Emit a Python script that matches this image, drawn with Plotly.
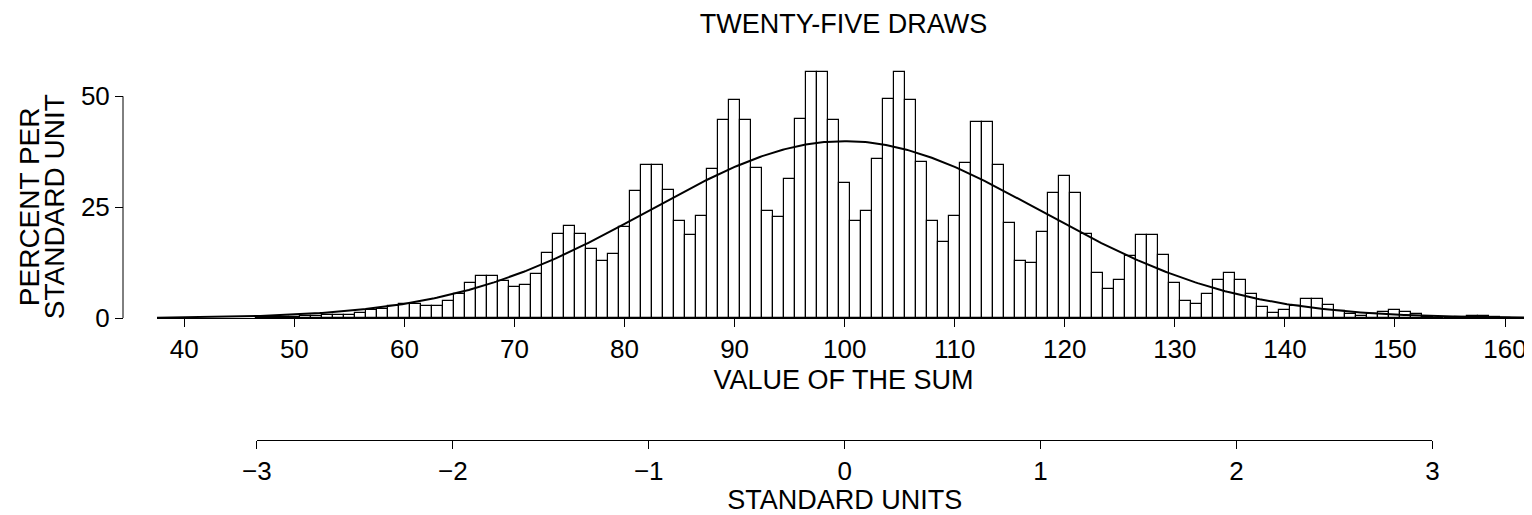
import numpy as np
import plotly.graph_objects as go

# ---------------- data ----------------
sums = list(range(47, 161))
pct_per_su = [
    0.15, 0.2, 0.2,                                   # 47-49
    0.25, 0.4, 0.5, 0.6, 0.6, 0.6, 1.1, 1.7, 2.1, 2.7,  # 50-59
    3.2, 3.2, 2.8, 2.8, 3.8, 5.5, 7.9, 9.4, 9.4, 8.3,   # 60-69
    7.0, 7.4, 10.0, 14.7, 18.9, 20.7, 19.0, 15.5, 12.9, 14.4,  # 70-79
    20.5, 28.6, 34.5, 34.5, 28.9, 21.8, 18.7, 23.1, 33.6, 44.6,  # 80-89
    49.2, 44.6, 33.8, 24.1, 22.8, 31.3, 45.0, 55.5, 55.5, 44.7,  # 90-99
    30.5, 21.8, 24.1, 35.9, 49.4, 55.5, 49.2, 35.1, 21.9, 17.1,  # 100-109
    23.0, 34.9, 44.3, 44.3, 34.5, 21.5, 12.8, 12.5, 19.5, 28.2,  # 110-119
    32.1, 28.2, 18.9, 10.2, 6.5, 8.6, 14.0, 18.7, 18.7, 14.1,    # 120-129
    7.9, 3.8, 3.2, 5.5, 8.6, 10.2, 8.6, 5.4, 2.5, 1.1,           # 130-139
    1.7, 2.8, 4.3, 4.3, 3.0, 1.5, 0.9, 0.5, 0.9, 1.4,            # 140-149
    1.7, 1.4, 0.8, 0.3, 0.1, 0.1, 0.3, 0.5, 0.5, 0.3,            # 150-159
    0.1,                                                         # 160
]
MEAN = 100.0
SD = 17.8
x_ticks = [40, 50, 60, 70, 80, 90, 100, 110, 120, 130, 140, 150, 160]
y_ticks = [0, 25, 50]
su_ticks = [-3, -2, -1, 0, 1, 2, 3]
su_labels = ["\u22123", "\u22122", "\u22121", "0", "1", "2", "3"]

title_text = "TWENTY-FIVE DRAWS"
xlabel = "VALUE OF THE SUM"
ylabel_lines = ["PERCENT PER", "STANDARD UNIT"]
su_label = "STANDARD UNITS"

# ---------------- geometry (page has an 8px body margin) ----------------
OFF = 8
W, H = 1532 - OFF, 515 - OFF


def fx(px):  # reference page x -> figure x
    return px - OFF


def fy(py):  # reference page y -> figure y
    return py - OFF


ML, MR, MT, MB = fx(123), 2, fy(52), 12
PW = W - ML - MR
PH = H - MT - MB
X_RANGE = [37.52, 162.27]
X_LEFT = fx(157)
x_dom0 = (X_LEFT - ML) / PW
px_per_unit = (W - MR - X_LEFT) / (X_RANGE[1] - X_RANGE[0])


def px_of(v):
    return X_LEFT + (v - X_RANGE[0]) * px_per_unit


main_bottom = fy(318)
y_dom0 = (H - MB - main_bottom) / PH
su_axis = fy(440)
y2_dom0 = (H - MB - su_axis) / PH
su_dom = [(px_of(MEAN - 3 * SD) - ML) / PW, (px_of(MEAN + 3 * SD) - ML) / PW]

FONT = "Liberation Sans, Arial, Helvetica, sans-serif"
FS_TICK = 26
FS_LAB = 27

# normal curve
xc = np.linspace(X_RANGE[0], X_RANGE[1], 600)
yc = 100.0 * np.exp(-0.5 * ((xc - MEAN) / SD) ** 2) / np.sqrt(2 * np.pi)

fig = go.Figure()
fig.add_trace(go.Bar(
    x=sums, y=pct_per_su, width=1.0,
    marker=dict(color="white", line=dict(color="black", width=1.2)),
    showlegend=False, hoverinfo="x+y",
))
fig.add_trace(go.Scatter(
    x=xc, y=yc, mode="lines", line=dict(color="black", width=2),
    showlegend=False, hoverinfo="skip",
))
# invisible trace to carry the standard-units axis
fig.add_trace(go.Scatter(
    x=[su_ticks[0], su_ticks[-1]], y=[0, 0], xaxis="x2", yaxis="y2",
    mode="markers", marker=dict(opacity=0), showlegend=False, hoverinfo="skip",
))

fig.update_layout(
    width=W, height=H,
    margin=dict(l=ML, r=MR, t=MT, b=MB, autoexpand=False),
    paper_bgcolor="white", plot_bgcolor="white",
    font=dict(family=FONT, size=FS_TICK, color="black"),
    bargap=0,
    title=dict(text=title_text, x=fx(843.5) / W, xanchor="center", xref="container",
               y=1 - fy(24) / H, yanchor="middle", yref="container",
               font=dict(size=FS_LAB, family=FONT, color="black")),
    xaxis=dict(
        domain=[x_dom0, 1], range=X_RANGE, anchor="y",
        tickmode="array", tickvals=x_ticks, ticks="outside", ticklen=8,
        tickwidth=1, tickcolor="black", showline=True, linecolor="black",
        linewidth=1, showgrid=False, zeroline=False,
        tickfont=dict(size=FS_TICK, family=FONT, color="black"),
        title=dict(text=xlabel, standoff=6, font=dict(size=FS_LAB, family=FONT, color="black")),
    ),
    yaxis=dict(
        domain=[y_dom0, 1], range=[0, 60], anchor="free", position=0,
        tickmode="array", tickvals=y_ticks, ticks="outside", ticklen=8,
        tickwidth=1, tickcolor="black", showline=False, showgrid=False,
        zeroline=False, tickfont=dict(size=FS_TICK, family=FONT, color="black"),
    ),
    xaxis2=dict(
        domain=su_dom, range=[su_ticks[0], su_ticks[-1]], anchor="y2",
        tickmode="array", tickvals=su_ticks, ticktext=su_labels,
        ticks="outside", ticklen=8, tickwidth=1, tickcolor="black",
        showline=True, linecolor="black", linewidth=1, showgrid=False,
        zeroline=False, tickfont=dict(size=FS_TICK, family=FONT, color="black"),
        title=dict(text=su_label, standoff=4, font=dict(size=FS_LAB, family=FONT, color="black")),
    ),
    yaxis2=dict(domain=[y2_dom0, y2_dom0 + 0.01], range=[0, 1], visible=False,
                anchor="x2"),
    shapes=[dict(type="line", xref="paper", yref="y", x0=0, x1=0,
                 y0=y_ticks[0], y1=y_ticks[-1], line=dict(color="black", width=1))],
    annotations=[
        dict(text=ylabel_lines[0], xref="paper", yref="y", x=(fx(29) - ML) / PW, y=25,
             textangle=-90, showarrow=False, xanchor="center", yanchor="middle",
             font=dict(size=28, family=FONT, color="black")),
        dict(text=ylabel_lines[1], xref="paper", yref="y", x=(fx(54) - ML) / PW, y=25,
             textangle=-90, showarrow=False, xanchor="center", yanchor="middle",
             font=dict(size=28, family=FONT, color="black")),
    ],
)

fig.write_html("out.html")
